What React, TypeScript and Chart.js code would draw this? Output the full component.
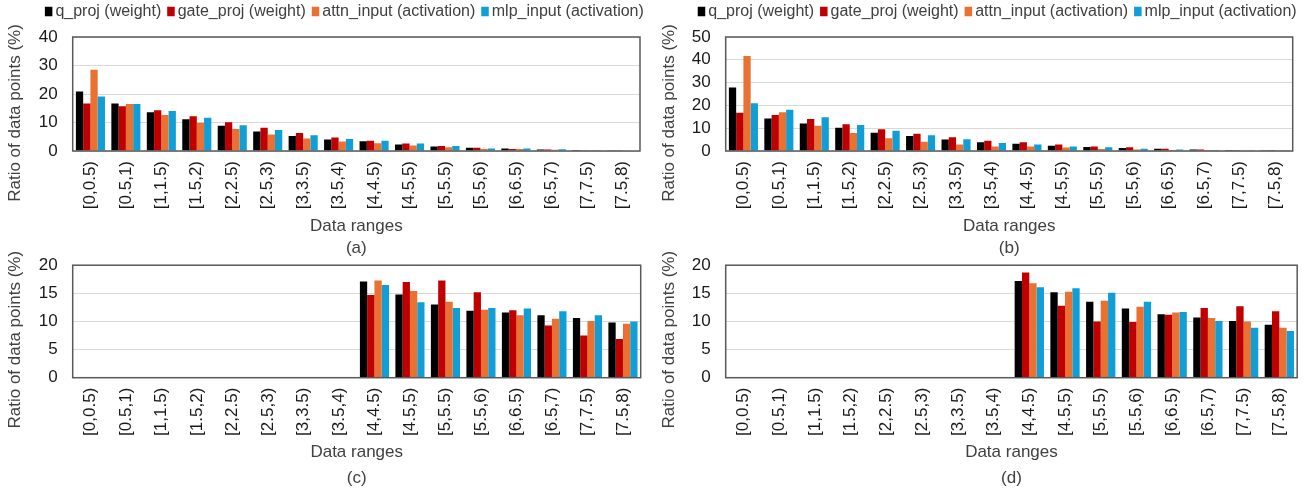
import React, { useEffect, useRef } from 'react';
import { Chart, registerables } from 'chart.js';

Chart.register(...registerables);

const FONT = '"Liberation Sans", Arial, Helvetica, sans-serif';

const categories = ['[0,0.5)', '[0.5,1)', '[1,1.5)', '[1.5,2)', '[2,2.5)', '[2.5,3)', '[3,3.5)', '[3.5,4)', '[4,4.5)', '[4.5,5)', '[5,5.5)', '[5.5,6)', '[6,6.5)', '[6.5,7)', '[7,7.5)', '[7.5,8)'];
const seriesNames = ['q_proj (weight)', 'gate_proj (weight)', 'attn_input (activation)', 'mlp_input (activation)'];
const seriesColors = ['#000000', '#C00000', '#E97132', '#0F9ED5'];

// (a)
const qA = [20.9, 16.7, 13.6, 11.1, 8.9, 6.8, 5.3, 4.0, 3.4, 2.3, 1.6, 1.1, 0.9, 0.5, 0.35, 0.25];
const gateA = [16.7, 15.7, 14.3, 12.2, 10.1, 8.2, 6.3, 4.7, 3.6, 2.6, 1.75, 1.1, 0.7, 0.5, 0.3, 0.25];
const attnA = [28.5, 16.5, 12.6, 9.9, 7.7, 5.8, 4.4, 3.3, 2.7, 1.9, 1.3, 0.7, 0.7, 0.45, 0.25, 0.2];
const mlpA = [19.1, 16.5, 14.0, 11.7, 9.0, 7.4, 5.5, 4.2, 3.6, 2.6, 1.75, 0.9, 0.9, 0.6, 0.3, 0.2];

// (b)
const qB = [27.8, 14.3, 12.1, 10.2, 8.0, 6.6, 5.0, 3.8, 3.2, 2.3, 1.75, 1.3, 1.0, 0.7, 0.4, 0.3];
const gateB = [16.8, 15.8, 14.0, 11.7, 9.5, 7.6, 6.0, 4.5, 3.8, 2.8, 2.0, 1.6, 1.0, 0.7, 0.4, 0.4];
const attnB = [41.7, 17.0, 11.1, 7.9, 5.6, 4.1, 2.8, 2.0, 2.0, 1.5, 0.9, 0.7, 0.4, 0.4, 0.3, 0.3];
const mlpB = [20.9, 18.1, 14.8, 11.4, 8.9, 6.9, 5.1, 3.5, 2.9, 2.0, 1.6, 1.0, 0.7, 0.4, 0.3, 0.3];

// (c)
const qC = [0, 0, 0, 0, 0, 0, 0, 0, 17.1, 14.8, 13.0, 11.9, 11.6, 11.1, 10.6, 9.8];
const gateC = [0, 0, 0, 0, 0, 0, 0, 0, 14.7, 17.0, 17.3, 15.2, 12.0, 9.3, 7.5, 6.9];
const attnC = [0, 0, 0, 0, 0, 0, 0, 0, 17.3, 15.4, 13.5, 12.1, 11.1, 10.5, 10.1, 9.6];
const mlpC = [0, 0, 0, 0, 0, 0, 0, 0.05, 16.5, 13.4, 12.4, 12.4, 12.3, 11.8, 11.1, 10.0];

// (d)
const qD = [0, 0, 0, 0, 0, 0, 0, 0, 17.2, 15.2, 13.5, 12.3, 11.3, 10.7, 10.1, 9.4];
const gateD = [0, 0, 0, 0, 0, 0, 0, 0, 18.7, 12.8, 10.0, 9.9, 11.2, 12.4, 12.7, 11.8];
const attnD = [0, 0, 0, 0, 0, 0, 0, 0, 16.8, 15.3, 13.7, 12.6, 11.6, 10.6, 10.0, 8.9];
const mlpD = [0, 0, 0, 0, 0, 0, 0, 0.05, 16.1, 15.9, 15.1, 13.5, 11.7, 10.1, 8.9, 8.3];

const yTitle = 'Ratio of data points (%)';
const xTitle = 'Data ranges';

type PanelSpec = {
  caption: string;
  series: number[][];
  yMax: number;
  yStep: number;
  legend: boolean;
  left: number;
  top: number;
  width: number;
  height: number;
  yAxisWidth: number;
  padTop: number;
  padRight: number;
  padBottom: number;
  yTitleX: number;
  captionOffset: number;
};

const panels: PanelSpec[] = [
  { caption: '(a)', series: [qA, gateA, attnA, mlpA], yMax: 40, yStep: 10, legend: true,
    left: 0, top: 0, width: 655, height: 260, yAxisWidth: 72.7, padTop: 37, padRight: 15, padBottom: 23.8, yTitleX: 15, captionOffset: 97.3 },
  { caption: '(b)', series: [qB, gateB, attnB, mlpB], yMax: 50, yStep: 10, legend: true,
    left: 655, top: 0, width: 655, height: 260, yAxisWidth: 70.7, padTop: 37, padRight: 17.3, padBottom: 23.8, yTitleX: 14, captionOffset: 97.3 },
  { caption: '(c)', series: [qC, gateC, attnC, mlpC], yMax: 20, yStep: 5, legend: false,
    left: 0, top: 240, width: 655, height: 253, yAxisWidth: 72.7, padTop: 24, padRight: 14.3, padBottom: 30.1, yTitleX: 15, captionOffset: 100.6 },
  { caption: '(d)', series: [qD, gateD, attnD, mlpD], yMax: 20, yStep: 5, legend: false,
    left: 655, top: 240, width: 655, height: 253, yAxisWidth: 70.7, padTop: 24, padRight: 9, padBottom: 30.1, yTitleX: 14, captionOffset: 100.6 },
];

const decoPlugin = {
  id: 'deco',
  afterDraw(chart: any, _args: any, opts: any) {
    const { ctx, chartArea: a } = chart;
    ctx.save();
    // plot border
    ctx.strokeStyle = '#595959';
    ctx.lineWidth = 1.5;
    ctx.strokeRect(a.left, a.top, a.right - a.left, a.bottom - a.top);

    // y title
    ctx.fillStyle = '#404040';
    ctx.font = `17px ${FONT}`;
    ctx.textAlign = 'center';
    ctx.textBaseline = 'middle';
    ctx.save();
    ctx.translate(opts.yTitleX, a.bottom - 38);
    ctx.rotate(-Math.PI / 2);
    ctx.fillText(opts.yTitle, 0, 0);
    ctx.restore();

    // caption
    ctx.fillText(opts.caption, (a.left + a.right) / 2, a.bottom + opts.captionOffset);

    // legend
    if (opts.legend) {
      ctx.font = `16px ${FONT}`;
      const boxW = 7.5;
      const boxH = 9.5;
      const gapBT = 3;
      const gapItem = 6;
      const dsets = chart.data.datasets;
      const widths = dsets.map((d: any) => ctx.measureText(d.label).width);
      let total = 0;
      widths.forEach((w: number) => { total += boxW + gapBT + w; });
      total += gapItem * (dsets.length - 1);
      let x = (a.left + a.right) / 2 - 12 - total / 2;
      const cy = 11.5;
      ctx.textAlign = 'left';
      dsets.forEach((d: any, i: number) => {
        ctx.fillStyle = d.backgroundColor;
        ctx.fillRect(x, cy - boxH / 2, boxW, boxH);
        x += boxW + gapBT;
        ctx.fillStyle = '#404040';
        ctx.fillText(d.label, x, cy + 0.5);
        x += widths[i] + gapItem;
      });
    }
    ctx.restore();
  },
};

function Panel({ spec }: { spec: PanelSpec }) {
  const ref = useRef<HTMLCanvasElement | null>(null);
  useEffect(() => {
    if (!ref.current) return;
    const chart = new Chart(ref.current, {
      type: 'bar',
      data: {
        labels: categories,
        datasets: spec.series.map((vals, i) => ({
          label: seriesNames[i],
          data: vals,
          backgroundColor: seriesColors[i],
          borderWidth: 0,
          categoryPercentage: 0.82,
          barPercentage: 1.0,
        })),
      },
      options: {
        animation: false,
        responsive: false,
        devicePixelRatio: 1,
        layout: { padding: { top: spec.padTop, left: 0, right: spec.padRight, bottom: spec.padBottom } },
        plugins: {
          legend: { display: false },
          tooltip: { enabled: false },
          deco: {
            caption: spec.caption,
            legend: spec.legend,
            yTitle,
            yTitleX: spec.yTitleX,
            captionOffset: spec.captionOffset,
          },
        } as any,
        scales: {
          x: {
            grid: { display: false, drawTicks: false },
            border: { display: false },
            ticks: {
              autoSkip: false,
              minRotation: 90,
              maxRotation: 90,
              padding: 10,
              color: '#1a1a1a',
              font: { family: FONT, size: 17 },
            },
            title: {
              display: true,
              text: xTitle,
              color: '#404040',
              font: { family: FONT, size: 17 },
              padding: 0,
            },
            afterFit: (scale: any) => { scale.height = 85.2; },
          },
          y: {
            min: 0,
            max: spec.yMax,
            grid: { color: '#d9d9d9', lineWidth: 1, drawTicks: false },
            border: { display: false },
            ticks: {
              stepSize: spec.yStep,
              autoSkip: false,
              padding: 15,
              color: '#1a1a1a',
              font: { family: FONT, size: 17 },
            },
            afterFit: (scale: any) => { scale.width = spec.yAxisWidth; },
          },
        },
      },
      plugins: [decoPlugin],
    } as any);
    return () => chart.destroy();
  }, [spec]);
  return (
    <canvas
      ref={ref}
      width={spec.width}
      height={spec.height}
      style={{ position: 'absolute', left: spec.left, top: spec.top, width: spec.width, height: spec.height }}
    />
  );
}

export default function App() {
  return (
    <div style={{ position: 'absolute', left: 0, top: 0, width: 1310, height: 493, background: '#ffffff', overflow: 'hidden' }}>
      {panels.map((p) => (
        <Panel key={p.caption} spec={p} />
      ))}
    </div>
  );
}
